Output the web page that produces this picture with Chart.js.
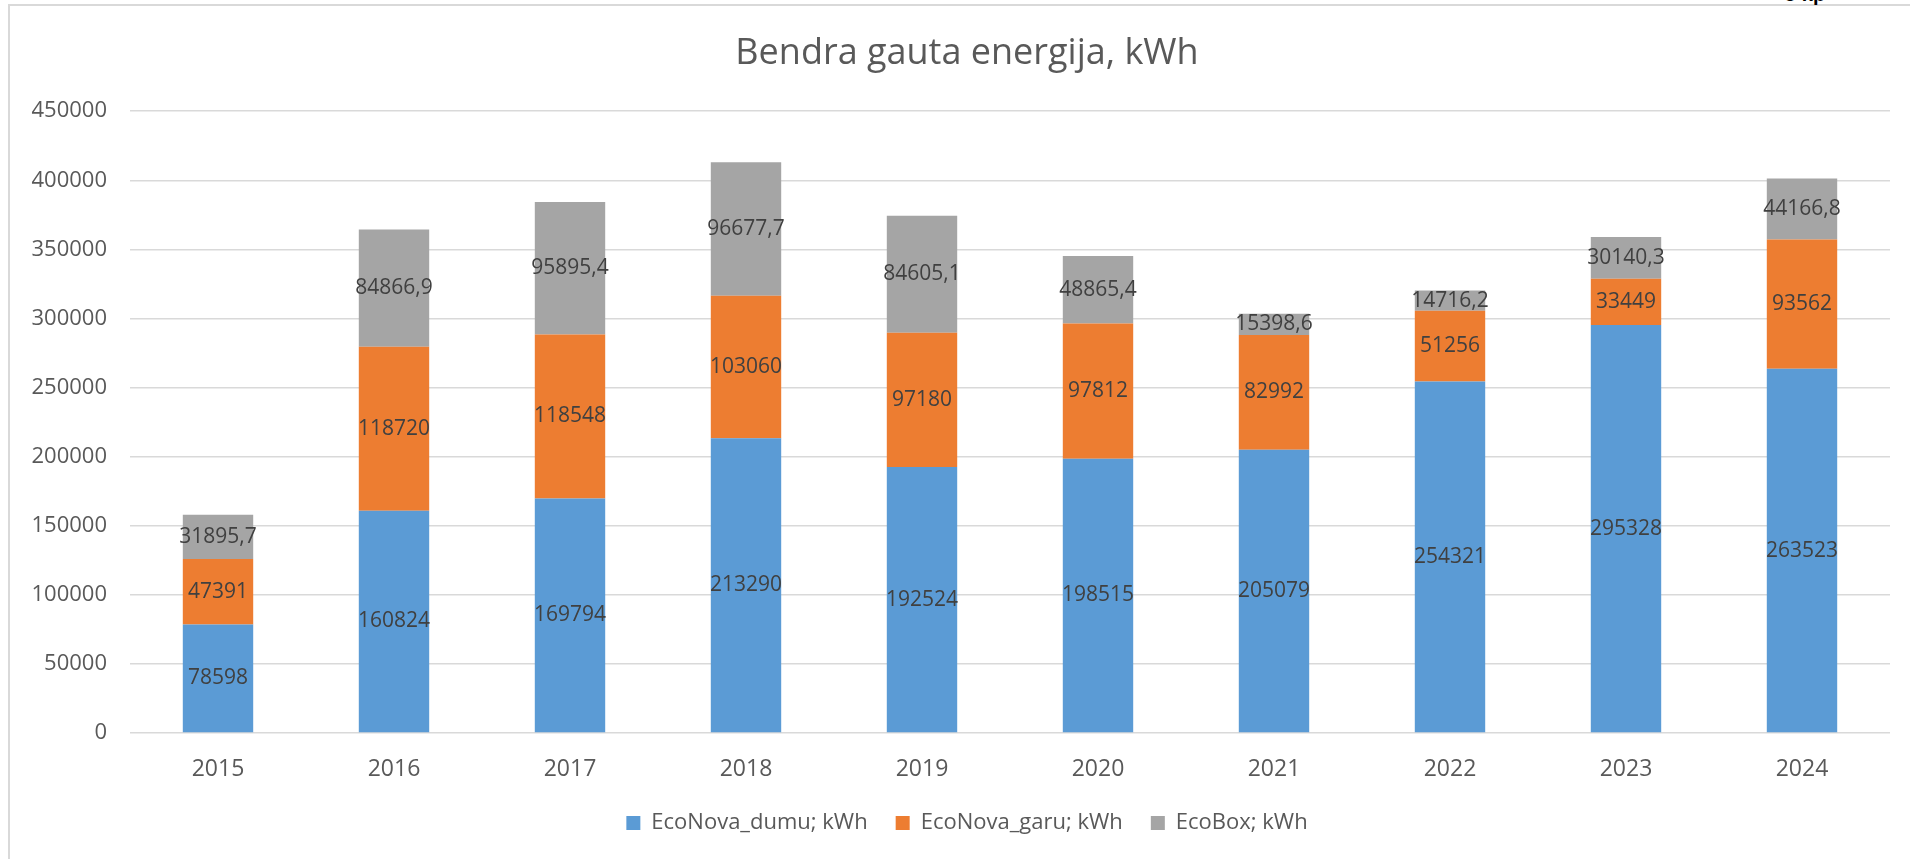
<!DOCTYPE html>
<html>
<head>
<meta charset="utf-8">
<title>Bendra gauta energija, kWh</title>
<script src="https://cdn.jsdelivr.net/npm/chart.js@4"></script>
<style>
  html, body { margin:0; padding:0; background:#fff; overflow:hidden; }
  #frame { position:absolute; left:8px; top:4px; right:0; bottom:0;
    border-left:2px solid #d9d9d9; border-top:2px solid #d9d9d9; }
  #scrap { position:absolute; left:1784px; top:-17px; font:bold 20px "Liberation Sans", sans-serif; color:#000; }
  #wrap { position:absolute; left:0; top:0; width:1910px; height:859px; }
</style>
</head>
<body>
<div id="frame"></div>
<div id="scrap">o kp</div>
<div id="wrap"><canvas id="chart"></canvas></div>
<script>
// ---------- Data ----------
const years = ['2015','2016','2017','2018','2019','2020','2021','2022','2023','2024'];
const dumu = [78598, 160824, 169794, 213290, 192524, 198515, 205079, 254321, 295328, 263523];
const garu = [47391, 118720, 118548, 103060, 97180, 97812, 82992, 51256, 33449, 93562];
const ecoBox = [31895.7, 84866.9, 95895.4, 96677.7, 84605.1, 48865.4, 15398.6, 14716.2, 30140.3, 44166.8];
const seriesNames = ['EcoNova_dumu; kWh', 'EcoNova_garu; kWh', 'EcoBox; kWh'];
const yTicks = [0, 50000, 100000, 150000, 200000, 250000, 300000, 350000, 400000, 450000];

const FONT = '"Open Sans", "Liberation Sans", sans-serif';
const fmtNum = (v) => String(v).replace('.', ',');

// labels in the middle of each segment
const segLabels = {
  id: 'segLabels',
  afterLayout(chart){
    // y labels are clipped to the scale box, let it reach the left edge
    chart.scales.y.left = 0;
  },
  afterDatasetsDraw(chart){
    const ctx = chart.ctx;
    ctx.save();
    ctx.font = '21px ' + FONT;
    ctx.fillStyle = '#404040';
    ctx.textAlign = 'center';
    ctx.textBaseline = 'middle';
    chart.data.datasets.forEach((ds, i)=>{
      const meta = chart.getDatasetMeta(i);
      meta.data.forEach((bar, j)=>{
        const p = bar.getProps(['x','y','base'], true);
        ctx.fillText(fmtNum(ds.data[j]), p.x, (p.y + p.base)/2);
      });
    });
    ctx.restore();
  }
};

const canvas = document.getElementById('chart');
canvas.width = 1910; canvas.height = 859;

new Chart(canvas.getContext('2d'), {
  type: 'bar',
  data: {
    labels: years,
    datasets: [
      { label: seriesNames[0], data: dumu, backgroundColor: '#5B9BD5' },
      { label: seriesNames[1], data: garu, backgroundColor: '#ED7D31' },
      { label: seriesNames[2], data: ecoBox, backgroundColor: '#A5A5A5' }
    ]
  },
  options: {
    responsive: false, animation: false,
    layout: { padding: { left: 44, right: 20, top: 0, bottom: 15 } },
    datasets: { bar: { categoryPercentage: 1, barPercentage: 0.4 } },
    plugins: {
      title: { display: true, text: 'Bendra gauta energija, kWh', color: '#595959',
        font: { family: FONT, size: 36, weight: 'normal', lineHeight: 1.2 },
        padding: { top: 32, bottom: 36 } },
      legend: { position: 'bottom',
        labels: { color: '#595959', boxWidth: 14, boxHeight: 14, padding: 28,
          font: { family: FONT, size: 22 } } },
      tooltip: { enabled: false }
    },
    scales: {
      x: { stacked: true,
        afterFit(scale){ scale.height = 51; },
        grid: { display: false }, border: { display: false },
        ticks: { color: '#595959', padding: 15, font: { family: FONT, size: 23 } } },
      y: { stacked: true, min: 0, max: 450000,
        afterFit(scale){ scale.width = 86; },
        afterBuildTicks(scale){ scale.ticks = yTicks.map(v=>({ value: v })); },
        grid: { color: '#d9d9d9', lineWidth: 1.5, drawTicks: false },
        border: { display: false },
        ticks: { color: '#595959', padding: 23, font: { family: FONT, size: 22 },
          callback: (v) => String(v) } }
    }
  },
  plugins: [segLabels]
});
</script>
</body>
</html>
